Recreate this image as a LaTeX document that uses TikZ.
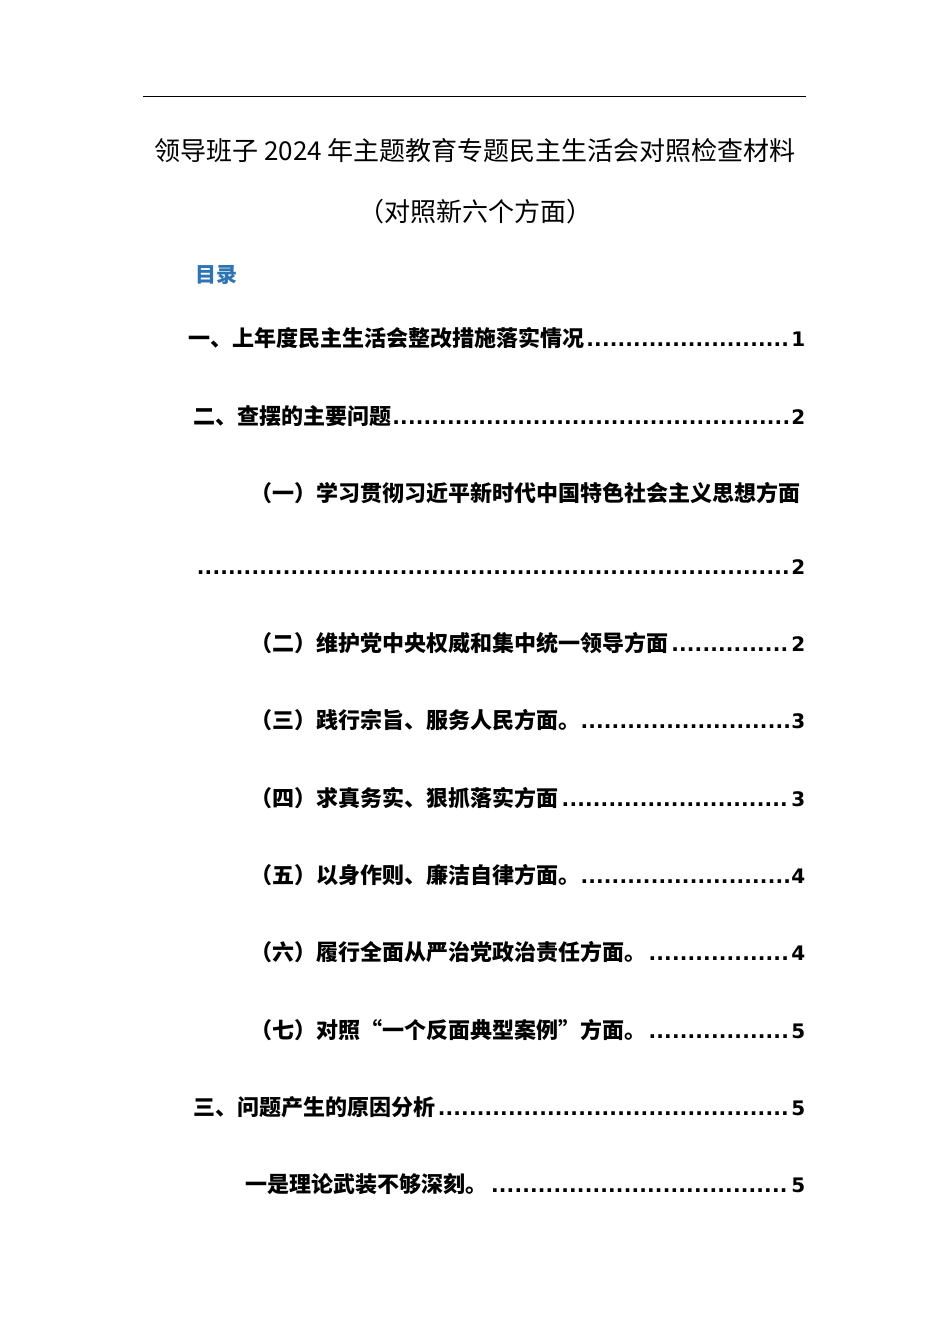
\documentclass[tikz,border=0pt]{standalone}
\usepackage{fontspec}
\setmainfont{Noto Sans CJK SC}
\newfontfamily\dotf{DejaVu Sans}[BoldFont={DejaVu Sans Bold}]
\definecolor{tocblue}{HTML}{2E74B5}
\newcommand{\tocl}[4]{\node[anchor=west,inner sep=0,font=\fontsize{22}{26}\selectfont\bfseries] at (#1,-#2) {\hbox to \dimexpr 805pt-#1pt\relax{#3{\dotf\bfseries\fontsize{20}{24}\selectfont\cleaders\hbox to 7.8pt{\hss.\hss}\hfill #4}}};}
\begin{document}
\begin{tikzpicture}[x=1pt,y=1pt]
\useasboundingbox[fill=white] (0,0) rectangle (950,-1344);
\draw[line width=1pt] (143,-96) -- (806,-96);
\node[font=\fontsize{26}{30}\selectfont] (t1) at (475,-151) {领导班子 2024 年主题教育专题民主生活会对照检查材料};
\node[font=\fontsize{26}{30}\selectfont] (t2) at (475,-212) {（对照新六个方面）};
\node[anchor=west,inner sep=0,font=\fontsize{21}{24}\selectfont\bfseries,text=tocblue] (mulu) at (195,-275) {目录};
\tocl{188}{338}{一、上年度民主生活会整改措施落实情况}{1}
\tocl{193}{416}{二、查摆的主要问题}{2}
\node[anchor=west,inner sep=0,font=\fontsize{22}{26}\selectfont\bfseries] at (250,-493) {（一）学习贯彻习近平新时代中国特色社会主义思想方面};
\tocl{195}{567}{}{2}
\tocl{250}{643}{（二）维护党中央权威和集中统一领导方面}{2}
\tocl{250}{720}{（三）践行宗旨、服务人民方面。}{3}
\tocl{250}{798}{（四）求真务实、狠抓落实方面}{3}
\tocl{250}{875}{（五）以身作则、廉洁自律方面。}{4}
\tocl{250}{952}{（六）履行全面从严治党政治责任方面。}{4}
\tocl{250}{1030}{（七）对照“一个反面典型案例”方面。}{5}
\tocl{193}{1107}{三、问题产生的原因分析}{5}
\tocl{245}{1184}{一是理论武装不够深刻。}{5}
\end{tikzpicture}
\end{document}
